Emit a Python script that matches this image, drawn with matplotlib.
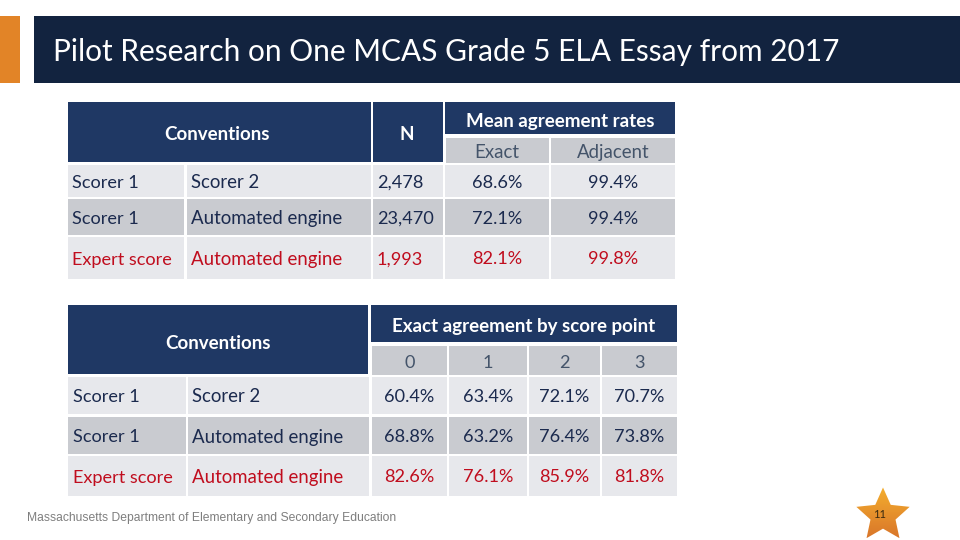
import numpy as np
import matplotlib
matplotlib.use("Agg")
import matplotlib.pyplot as plt
from matplotlib.patches import Polygon, Rectangle

plt.rcParams["font.family"] = ["Lato", "DejaVu Sans"]

# ── data ──────────────────────────────────────────────────────────────
title = "Pilot Research on One MCAS Grade 5 ELA Essay from 2017"
footer = "Massachusetts Department of Elementary and Secondary Education"
page_no = "11"

rater_a = ["Scorer 1", "Scorer 1", "Expert score"]
rater_b = ["Scorer 2", "Automated engine", "Automated engine"]

n_values = ["2,478", "23,470", "1,993"]
exact = ["68.6%", "72.1%", "82.1%"]
adjacent = ["99.4%", "99.4%", "99.8%"]

score_points = ["0", "1", "2", "3"]
by_point_0 = ["60.4%", "68.8%", "82.6%"]
by_point_1 = ["63.4%", "63.2%", "76.1%"]
by_point_2 = ["72.1%", "76.4%", "85.9%"]
by_point_3 = ["70.7%", "73.8%", "81.8%"]

# ── colours ───────────────────────────────────────────────────────────
NAVY = "#1F3864"
BAR = "#12233F"
ORANGE = "#E28427"
LIGHT = "#E7E8EC"
DARK = "#C9CBD0"
INK = "#1B2A4E"
SUB = "#44546A"
RED = "#C00D1E"
ROW_SHADE = [LIGHT, DARK, LIGHT]
ROW_INK = [INK, INK, RED]

BODY = 13.1       # rows
WIDE = 13.4       # engine names, sub-headers
HEAD = 13.5       # bold header cells

fig = plt.figure(figsize=(9.6, 5.4), dpi=100, facecolor="white")
ax = fig.add_axes([0, 0, 1, 1])
ax.set_axis_off()


def box(x0, x1, y0, y1, color):
    ax.add_patch(Rectangle((x0, y0), x1 - x0, y1 - y0, fc=color, ec="none", zorder=1))


def label(x, y, s, color=INK, size=BODY, ha="center", weight="normal"):
    ax.text(x, y, s, color=color, fontsize=size, ha=ha, va="center_baseline",
            fontweight=weight, zorder=3)


# ── title band ────────────────────────────────────────────────────────
box(0, 20, 16, 83, ORANGE)
box(34, 960, 16, 83, BAR)
label(53, 49, title, color="white", size=21.5, ha="left")

# ── top table ─────────────────────────────────────────────────────────
box(68, 371, 102, 162, NAVY)
box(373, 443, 102, 162, NAVY)
box(445, 675, 102, 134, NAVY)
box(446, 549, 138, 163, DARK)
box(551, 675, 138, 163, DARK)
label(217, 133, "Conventions", color="white", weight="bold", size=HEAD)
label(407, 133, "N", color="white", weight="bold", size=HEAD)
label(560, 120, "Mean agreement rates", color="white", weight="bold", size=HEAD)
label(497, 151, "Exact", color=SUB, size=WIDE)
label(613, 151, "Adjacent", color=SUB, size=WIDE)

top_rows = [(165, 197), (199, 235), (237, 279)]
for i, (y0, y1) in enumerate(top_rows):
    ym = (y0 + y1) / 2
    for x0, x1 in [(68, 184), (187, 371), (373, 443), (445, 549), (551, 675)]:
        box(x0, x1, y0, y1, ROW_SHADE[i])
    label(72, ym, rater_a[i], ROW_INK[i], ha="left")
    label(191, ym, rater_b[i], ROW_INK[i], size=WIDE, ha="left")
    label(377, ym, n_values[i], ROW_INK[i], ha="left")
    label(497, ym, exact[i], ROW_INK[i])
    label(613, ym, adjacent[i], ROW_INK[i])

# ── bottom table ──────────────────────────────────────────────────────
box(68, 368, 305, 374, NAVY)
box(371, 677, 305, 342, NAVY)
label(218, 342, "Conventions", color="white", weight="bold", size=HEAD)
label(524, 325, "Exact agreement by score point", color="white", weight="bold", size=HEAD)

point_cols = [(372, 447), (449, 527), (529, 600), (602, 677)]
for (x0, x1), s in zip(point_cols, score_points):
    box(x0, x1, 346, 375, DARK)
    label((x0 + x1) / 2, 361, s, color=SUB)

by_point = [by_point_0, by_point_1, by_point_2, by_point_3]
bottom_rows = [(377, 414), (417, 454), (456, 496)]
for i, (y0, y1) in enumerate(bottom_rows):
    ym = (y0 + y1) / 2
    box(68, 186, y0, y1, ROW_SHADE[i])
    box(188, 369, y0, y1, ROW_SHADE[i])
    label(73, ym, rater_a[i], ROW_INK[i], ha="left")
    label(192, ym, rater_b[i], ROW_INK[i], size=WIDE, ha="left")
    for (x0, x1), col in zip(point_cols, by_point):
        box(max(x0, 371), x1, y0, y1, ROW_SHADE[i])
        label((x0 + x1) / 2, ym, col[i], ROW_INK[i])

# ── footer ────────────────────────────────────────────────────────────
ax.text(27, 518, footer, color="#7F7F7F", fontsize=8.78, ha="left", va="center",
        family="Liberation Sans", zorder=3)

# ── star with vertical gradient ───────────────────────────────────────
cx, cy, r_out = 883, 515.5, 28
ang = np.deg2rad(-90 + 36 * np.arange(10))
rad = np.where(np.arange(10) % 2 == 0, r_out, r_out * 0.47)
star = Polygon(np.c_[cx + rad * np.cos(ang), cy + rad * np.sin(ang)],
               transform=ax.transData, fc="none", ec="none")
ax.add_patch(star)
grad = np.linspace(0, 1, 64)[:, None, None]
top_c = np.array([0xF4, 0xAE, 0x2E]) / 255
bot_c = np.array([0xD9, 0x76, 0x2A]) / 255
im = ax.imshow(top_c + grad * (bot_c - top_c), extent=(854, 912, 538, 487),
               aspect="auto", zorder=2)
im.set_clip_path(star)
label(880, 514, page_no, color="#3A2A10", size=8)

ax.set_xlim(0, 960)
ax.set_ylim(540, 0)

fig.savefig("out.png", dpi=100)
